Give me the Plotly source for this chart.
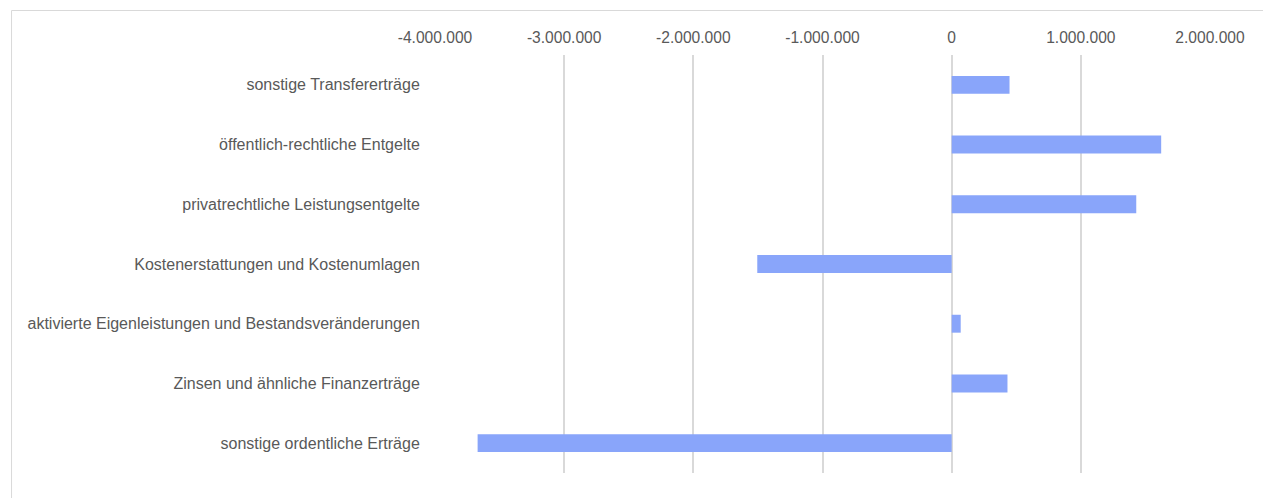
import plotly.graph_objects as go

categories = [
    "sonstige Transfererträge",
    "öffentlich-rechtliche Entgelte",
    "privatrechtliche Leistungsentgelte",
    "Kostenerstattungen und Kostenumlagen",
    "aktivierte Eigenleistungen und Bestandsveränderungen",
    "Zinsen und ähnliche Finanzerträge",
    "sonstige ordentliche Erträge",
]
values = [448000, 1622000, 1429000, -1505000, 70000, 432000, -3670000]

tick_values = [-4000000, -3000000, -2000000, -1000000, 0, 1000000, 2000000]
tick_labels = [f"{v:,}".replace(",", ".") for v in tick_values]

W, H = 1263, 498
L, R, T, B = 434.5, 1210.5, 55, 473

fig = go.Figure(
    go.Bar(
        y=categories,
        x=values,
        orientation="h",
        width=0.3,
        marker=dict(color="#89A5FA", line=dict(width=0)),
        hoverinfo="x+y",
    )
)

pw, ph = R - L, B - T


def px_x(p):
    return (p - L) / pw


def px_y(p):
    return (B - p) / ph


# outer frame of the chart area
fig.add_shape(
    type="rect",
    xref="paper", yref="paper",
    x0=px_x(10.5), x1=px_x(W + 20),
    y0=px_y(H + 20), y1=px_y(10.5),
    line=dict(color="#D9D9D9", width=1),
    fillcolor="rgba(0,0,0,0)",
    layer="below",
)

fig.update_layout(
    width=W,
    height=H,
    margin=dict(l=L, r=W - R, t=T, b=H - B, pad=0),
    paper_bgcolor="white",
    plot_bgcolor="white",
    showlegend=False,
    font=dict(family="Liberation Sans, Arial, sans-serif", size=16, color="#595959"),
    xaxis=dict(
        side="top",
        range=[-4000000, 2000000],
        tickvals=tick_values,
        ticktext=tick_labels,
        showgrid=True,
        gridcolor="#D9D9D9",
        gridwidth=1.5,
        zeroline=True,
        zerolinecolor="#D9D9D9",
        zerolinewidth=1.5,
        showline=False,
        ticks="outside",
        ticklen=5,
        tickcolor="rgba(0,0,0,0)",
        tickfont=dict(size=15.6, color="#595959"),
        fixedrange=True,
    ),
    yaxis=dict(
        autorange="reversed",
        showgrid=False,
        zeroline=False,
        showline=False,
        ticks="outside",
        ticklen=11,
        tickcolor="rgba(0,0,0,0)",
        tickfont=dict(size=16, color="#595959"),
        fixedrange=True,
    ),
    bargap=0.7,
)

fig.write_html("out.html")
